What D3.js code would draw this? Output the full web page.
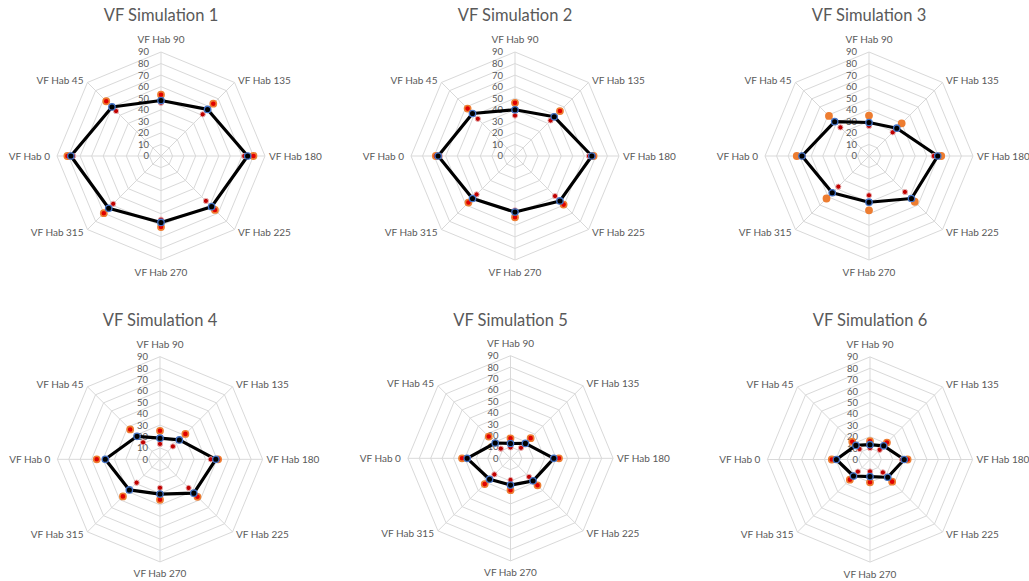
<!DOCTYPE html>
<html>
<head>
<meta charset="utf-8">
<script src="https://cdn.jsdelivr.net/npm/d3@7"></script>
<style>
  html, body { margin: 0; padding: 0; background: #ffffff; }
  svg { display: block; font-family: Lato, "Open Sans", sans-serif; }
</style>
</head>
<body>
<svg id="chart" width="1029" height="581"></svg>
<script>
// Axis categories, clockwise from the top
const categories = ["VF Hab 90", "VF Hab 135", "VF Hab 180", "VF Hab 225",
                    "VF Hab 270", "VF Hab 315", "VF Hab 0", "VF Hab 45"];
const tickValues = [0, 10, 20, 30, 40, 50, 60, 70, 80, 90];
const titles = ["VF Simulation 1", "VF Simulation 2", "VF Simulation 3",
                "VF Simulation 4", "VF Simulation 5", "VF Simulation 6"];

// Per simulation: mean (line), upper and lower values
const sim1Mean  = [48, 57, 75, 62, 57.5, 64, 78, 60];
const sim1Upper = [53, 64, 80, 66, 61.5, 70, 81, 67];
const sim1Lower = [46, 51, 72, 55, 55, 58.5, 76, 55];

const sim2Mean  = [40, 48, 66.5, 55, 48.5, 52, 66.5, 52];
const sim2Upper = [46, 55, 68, 59.5, 53, 57, 68.5, 58];
const sim2Lower = [35, 43.5, 64, 49, 47, 47, 65, 45.5];

const sim3Mean  = [29, 34, 59.5, 52, 40, 45, 58, 42];
const sim3Upper = [35, 40, 62.5, 56, 47, 52, 62.5, 49];
const sim3Lower = [26, 29, 56, 44, 34, 37.5, 57, 35];

const sim4Mean  = [18.5, 24, 49, 42, 30.5, 38, 48, 28.5];
const sim4Upper = [25, 31.5, 51, 46.5, 35.5, 46, 55.5, 37];
const sim4Lower = [13.5, 16, 44.5, 35.5, 25, 29, 47, 21];

const sim5Mean  = [13, 18.5, 38, 28, 23.5, 26, 38, 19];
const sim5Upper = [17.5, 25, 42.5, 33.5, 28, 32, 42.5, 27];
const sim5Lower = [9.5, 13, 37, 23, 19, 20, 37, 12];

const sim6Mean  = [13, 17, 30, 22, 15, 20.5, 29.5, 17.5];
const sim6Upper = [16, 21, 33, 27.5, 20, 25, 33.5, 22];
const sim6Lower = [10, 12, 28, 16, 10.5, 15, 29, 13];

const sims = [
  { mean: sim1Mean, upper: sim1Upper, lower: sim1Lower },
  { mean: sim2Mean, upper: sim2Upper, lower: sim2Lower },
  { mean: sim3Mean, upper: sim3Upper, lower: sim3Lower },
  { mean: sim4Mean, upper: sim4Upper, lower: sim4Lower },
  { mean: sim5Mean, upper: sim5Upper, lower: sim5Lower },
  { mean: sim6Mean, upper: sim6Upper, lower: sim6Lower }
];

// Panel placement (centre, outer radius, title baseline)
const panels = [
  { cx: 161,   cy: 156,   R: 104,   titleY: 21 },
  { cx: 515,   cy: 156,   R: 104,   titleY: 21 },
  { cx: 869,   cy: 156,   R: 104,   titleY: 21 },
  { cx: 160,   cy: 459.3, R: 102.6, titleY: 326 },
  { cx: 510.5, cy: 458.3, R: 102.6, titleY: 326 },
  { cx: 870,   cy: 459.5, R: 102.6, titleY: 326 }
];

const upperStyles = [
  { fill: "#e00000", stroke: "#ed7d31" },
  { fill: "#e00000", stroke: "#ed7d31" },
  { fill: "#ed7d31", stroke: "#ed7d31" },
  { fill: "#e00000", stroke: "#ed7d31" },
  { fill: "#e00000", stroke: "#ed7d31" },
  { fill: "#e00000", stroke: "#ed7d31" }
];

const svg = d3.select("#chart");
const textColor = "#595959";
const n = categories.length;
const angle = i => -Math.PI / 2 + i * 2 * Math.PI / n;

panels.forEach((p, k) => {
  const g = svg.append("g").attr("transform", `translate(${p.cx},${p.cy})`);
  const r = d3.scaleLinear().domain([0, 90]).range([0, p.R]);
  const pt = (v, i) => [r(v) * Math.cos(angle(i)), r(v) * Math.sin(angle(i))];

  // title
  svg.append("text")
    .attr("x", p.cx).attr("y", p.titleY)
    .attr("text-anchor", "middle")
    .attr("fill", textColor)
    .attr("font-size", "16.5px")
    .text(titles[k]);

  // octagonal gridlines
  const ring = d3.line();
  g.selectAll("path.grid")
    .data(tickValues.filter(v => v > 0))
    .join("path")
    .attr("class", "grid")
    .attr("d", v => ring(d3.range(n).map(i => pt(v, i))) + "Z")
    .attr("fill", "none")
    .attr("stroke", "#d9d9d9")
    .attr("stroke-width", 1);

  // spokes
  g.selectAll("line.spoke")
    .data(d3.range(n))
    .join("line")
    .attr("class", "spoke")
    .attr("x1", 0).attr("y1", 0)
    .attr("x2", i => pt(90, i)[0]).attr("y2", i => pt(90, i)[1])
    .attr("stroke", "#d9d9d9")
    .attr("stroke-width", 1);

  // value labels along the top spoke
  g.selectAll("text.tick")
    .data(tickValues)
    .join("text")
    .attr("class", "tick")
    .attr("x", -12)
    .attr("y", v => -r(v))
    .attr("dy", "0.36em")
    .attr("text-anchor", "end")
    .attr("fill", textColor)
    .attr("font-size", "9.5px")
    .text(v => v);

  // category labels
  const d = Math.SQRT1_2 * p.R;
  const labelPos = [
    { x: 0, y: -p.R - 12.5, anchor: "middle" },
    { x: d + 3.5, y: -d - 2.5, anchor: "start" },
    { x: p.R + 4, y: 0, anchor: "start" },
    { x: d + 3.5, y: d + 2.5, anchor: "start" },
    { x: 0, y: p.R + 12, anchor: "middle" },
    { x: -d - 4, y: d + 2.5, anchor: "end" },
    { x: -p.R - 7, y: 0, anchor: "end" },
    { x: -d - 4, y: -d - 2.5, anchor: "end" }
  ];
  g.selectAll("text.cat")
    .data(categories)
    .join("text")
    .attr("class", "cat")
    .attr("x", (c, i) => labelPos[i].x)
    .attr("y", (c, i) => labelPos[i].y)
    .attr("dy", "0.36em")
    .attr("text-anchor", (c, i) => labelPos[i].anchor)
    .attr("fill", textColor)
    .attr("font-size", "10px")
    .text(c => c);

  const s = sims[k];

  // mean line
  const radial = d3.lineRadial()
    .angle((v, i) => i * 2 * Math.PI / n)
    .radius(v => r(v))
    .curve(d3.curveLinearClosed);
  g.append("path")
    .attr("d", radial(s.mean))
    .attr("fill", "none")
    .attr("stroke", "#000000")
    .attr("stroke-width", 3.2)
    .attr("stroke-linejoin", "round");

  // lower markers
  g.selectAll("circle.lower")
    .data(s.lower)
    .join("circle")
    .attr("class", "lower")
    .attr("cx", (v, i) => pt(v, i)[0])
    .attr("cy", (v, i) => pt(v, i)[1])
    .attr("r", 2.6)
    .attr("fill", "#c00000")
    .attr("stroke", "#e8b4b4")
    .attr("stroke-width", 1);

  // upper markers
  g.selectAll("circle.upper")
    .data(s.upper)
    .join("circle")
    .attr("class", "upper")
    .attr("cx", (v, i) => pt(v, i)[0])
    .attr("cy", (v, i) => pt(v, i)[1])
    .attr("r", 3.1)
    .attr("fill", upperStyles[k].fill)
    .attr("stroke", upperStyles[k].stroke)
    .attr("stroke-width", 1.6);

  // mean markers
  g.selectAll("circle.mean")
    .data(s.mean)
    .join("circle")
    .attr("class", "mean")
    .attr("cx", (v, i) => pt(v, i)[0])
    .attr("cy", (v, i) => pt(v, i)[1])
    .attr("r", 3.2)
    .attr("fill", "#000000")
    .attr("stroke", "#4472c4")
    .attr("stroke-width", 1.3);
});
</script>
</body>
</html>
